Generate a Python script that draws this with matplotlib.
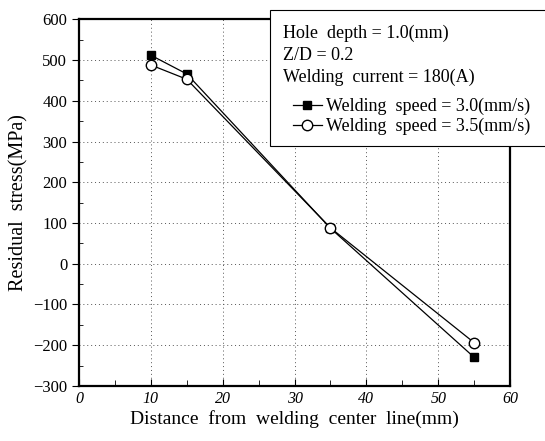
import numpy as np
import matplotlib.pyplot as plt
from matplotlib.patches import Rectangle
from matplotlib.ticker import MultipleLocator

# Data
distance = [10, 15, 35, 55]
stress_v30 = [512, 466, 87, -230]
stress_v35 = [488, 453, 88, -194]

label_v30 = "Welding  speed = 3.0(mm/s)"
label_v35 = "Welding  speed = 3.5(mm/s)"
info_lines = ["Hole  depth = 1.0(mm)", "Z/D = 0.2", "Welding  current = 180(A)"]

plt.rcParams['font.family'] = ['Liberation Serif', 'DejaVu Serif']

fig = plt.figure(figsize=(5.45, 4.41), dpi=100)
ax = fig.add_axes([0.145, 0.125, 0.791, 0.831])

ax.plot(distance, stress_v30, color='black', lw=0.9, marker='s', ms=6,
        mfc='black', mec='black', label=label_v30)
ax.plot(distance, stress_v35, color='black', lw=0.9, marker='o', ms=7.5,
        mfc='white', mec='black', label=label_v35)

ax.set_xlim(0, 60)
ax.set_ylim(-300, 600)
ax.xaxis.set_major_locator(MultipleLocator(10))
ax.xaxis.set_minor_locator(MultipleLocator(5))
ax.yaxis.set_major_locator(MultipleLocator(100))
ax.yaxis.set_minor_locator(MultipleLocator(50))
ax.tick_params(axis='x', which='both', direction='in', labelsize=11.5, pad=4)
ax.tick_params(axis='x', which='major', length=5)
ax.tick_params(axis='x', which='minor', length=4)
ax.tick_params(axis='y', which='major', direction='out', length=5, labelsize=12)
ax.tick_params(axis='y', which='minor', direction='in', length=3)
for lab in ax.get_xticklabels():
    lab.set_fontstyle('italic')
for s in ax.spines.values():
    s.set_linewidth(1.6)

ax.grid(True, which='major', linestyle=(0, (1, 3)), color='#555555', lw=0.7)

ax.set_xlabel("Distance  from  welding  center  line(mm)", fontsize=14,
              labelpad=2)
ax.set_ylabel("Residual  stress(MPa)", fontsize=14.5, labelpad=3)

# info box in the upper right corner
box = Rectangle((0.495, 0.669), 0.52, 0.308, transform=fig.transFigure,
                facecolor='white', edgecolor='black', lw=0.8, zorder=5)
fig.patches.append(box)
for i, line in enumerate(info_lines):
    fig.text(0.519, 0.925 - i * 0.05, line, fontsize=13, va='center',
             ha='left', zorder=6)

leg = fig.legend(loc='upper left', bbox_to_anchor=(0.5376, 0.778),
                 frameon=False, fontsize=13, handlelength=1.6,
                 handletextpad=0.25, labelspacing=0.15, borderpad=0,
                 borderaxespad=0)
leg.set_zorder(7)

fig.savefig("out.png", dpi=100)
